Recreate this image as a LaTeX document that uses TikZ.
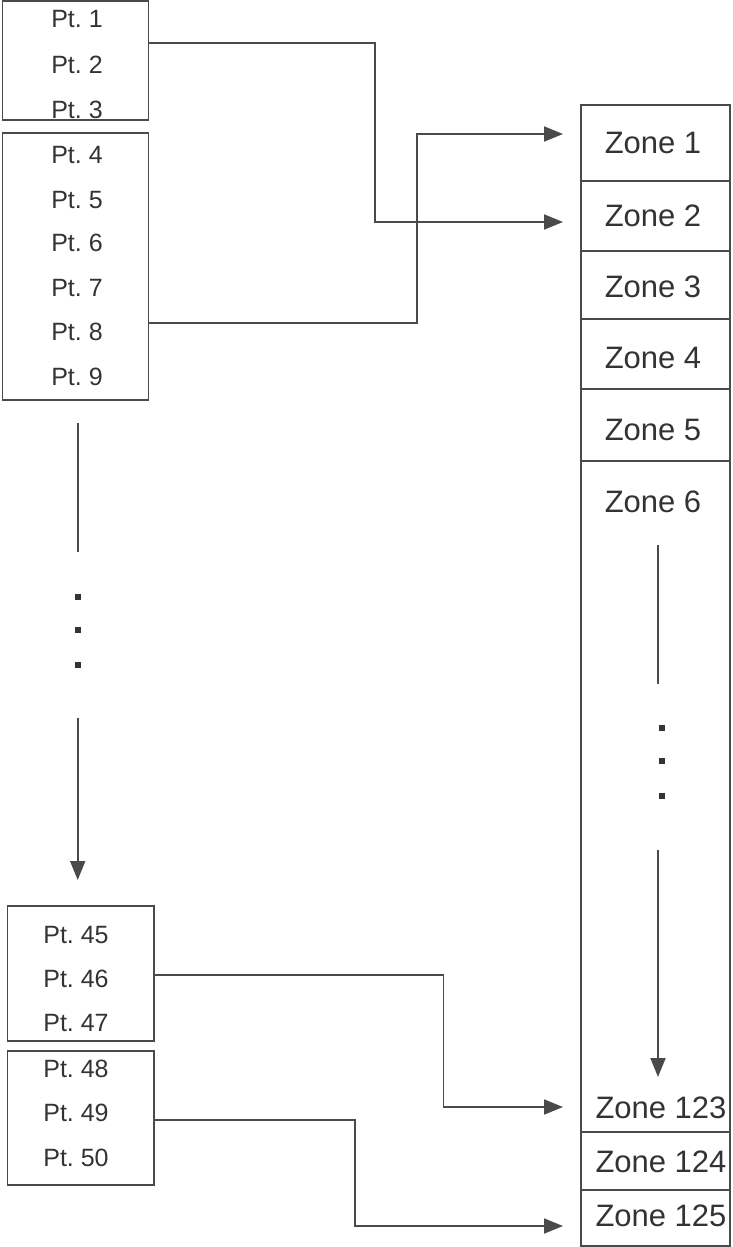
\documentclass[tikz,border=0pt]{standalone}
\usepackage{fontspec}
\setmainfont{Liberation Sans}
\frenchspacing
\usetikzlibrary{arrows.meta}
\definecolor{ink}{HTML}{333333}
\definecolor{wire}{HTML}{4A4A4A}
\tikzset{
  box/.style={draw=wire, line width=1.9pt, inner sep=0pt, rectangle},
  pt/.style={text=ink, font=\fontsize{25}{28}\selectfont\frenchspacing, inner sep=0pt, anchor=center},
  zt/.style={text=ink, font=\fontsize{31}{34}\selectfont, inner sep=0pt, anchor=center},
  conn/.style={draw=wire, line width=1.9pt},
  arr/.style={conn, -{Triangle[length=19pt,width=15pt]}},
  dotsq/.style={fill=ink, minimum size=6pt, inner sep=0pt, rectangle}
}
\begin{document}
\begin{tikzpicture}[x=1pt,y=-1pt]
\useasboundingbox (0,0) rectangle (732,1247);
% left boxes
\node[box, minimum width=146pt, minimum height=119pt] (b1) at (75.5,60.5) {};
\node[box, minimum width=146pt, minimum height=267pt] (b2) at (75.5,266.5) {};
\node[box, minimum width=146.5pt, minimum height=135pt] (b3) at (80.75,973.5) {};
\node[box, minimum width=146.5pt, minimum height=134pt] (b4) at (80.75,1118) {};
% point labels
\node[pt] (p1) at (77,19) {Pt. 1};
\node[pt] (p2) at (77,65) {Pt. 2};
\node[pt] (p3) at (77,110) {Pt. 3};
\node[pt] (p4) at (77,155) {Pt. 4};
\node[pt] (p5) at (77,200) {Pt. 5};
\node[pt] (p6) at (77,243) {Pt. 6};
\node[pt] (p7) at (77,288) {Pt. 7};
\node[pt] (p8) at (77,332) {Pt. 8};
\node[pt] (p9) at (77,377) {Pt. 9};
\node[pt] (p45) at (76,935) {Pt. 45};
\node[pt] (p46) at (76,979) {Pt. 46};
\node[pt] (p47) at (76,1023) {Pt. 47};
\node[pt] (p48) at (76,1069) {Pt. 48};
\node[pt] (p49) at (76,1113) {Pt. 49};
\node[pt] (p50) at (76,1158) {Pt. 50};
% zone cells
\node[box, minimum width=149pt, minimum height=76pt] (c1) at (655.5,143) {};
\node[box, minimum width=149pt, minimum height=70pt] (c2) at (655.5,216) {};
\node[box, minimum width=149pt, minimum height=68pt] (c3) at (655.5,285) {};
\node[box, minimum width=149pt, minimum height=70pt] (c4) at (655.5,354) {};
\node[box, minimum width=149pt, minimum height=72pt] (c5) at (655.5,425) {};
\node[box, minimum width=149pt, minimum height=671pt] (c6) at (655.5,796.5) {};
\node[box, minimum width=149pt, minimum height=58pt] (c124) at (655.5,1161) {};
\node[box, minimum width=149pt, minimum height=56pt] (c125) at (655.5,1218) {};
% zone labels
\node[zt] (z1) at (653,143) {Zone 1};
\node[zt] (z2) at (653,216) {Zone 2};
\node[zt] (z3) at (653,287) {Zone 3};
\node[zt] (z4) at (653,358) {Zone 4};
\node[zt] (z5) at (653,430) {Zone 5};
\node[zt] (z6) at (653,502) {Zone 6};
\node[zt] (z123) at (661,1108) {Zone 123};
\node[zt] (z124) at (661,1162) {Zone 124};
\node[zt] (z125) at (661,1216) {Zone 125};
% connector end points
\coordinate (s2) at (b1.east |- 0,43);
\coordinate (s8) at (b2.east |- 0,323);
\coordinate (s46) at (b3.east |- 0,975);
\coordinate (s49) at (b4.east |- 0,1120);
\coordinate (t1) at (563,134);
\coordinate (t2) at (563,222);
\coordinate (t123) at (563,1107);
\coordinate (t125) at (563,1226);
% connectors
\draw[arr] (s2) -- (375,43) -- (375,222) -- (t2);
\draw[arr] (s8) -- (417,323) -- (417,134) -- (t1);
\draw[arr] (s46) -- (443.5,975) -- (443.5,1107) -- (t123);
\draw[arr] (s49) -- (355,1120) -- (355,1226) -- (t125);
% left ellipsis
\coordinate (la) at (77.7,423);
\coordinate (lb) at (77.7,552);
\coordinate (lc) at (77.7,718);
\coordinate (ld) at (77.7,880);
\draw[conn] (la) -- (lb);
\node[dotsq] (ld1) at (78,597) {};
\node[dotsq] (ld2) at (78,630) {};
\node[dotsq] (ld3) at (78,665) {};
\draw[arr] (lc) -- (ld);
% right ellipsis
\coordinate (ra) at (658,545);
\coordinate (rb) at (658,684);
\coordinate (rc) at (658,850);
\coordinate (rd) at (658,1077);
\draw[conn] (ra) -- (rb);
\node[dotsq] (rd1) at (662,728) {};
\node[dotsq] (rd2) at (662,761) {};
\node[dotsq] (rd3) at (662,796) {};
\draw[arr] (rc) -- (rd);
\end{tikzpicture}
\end{document}
